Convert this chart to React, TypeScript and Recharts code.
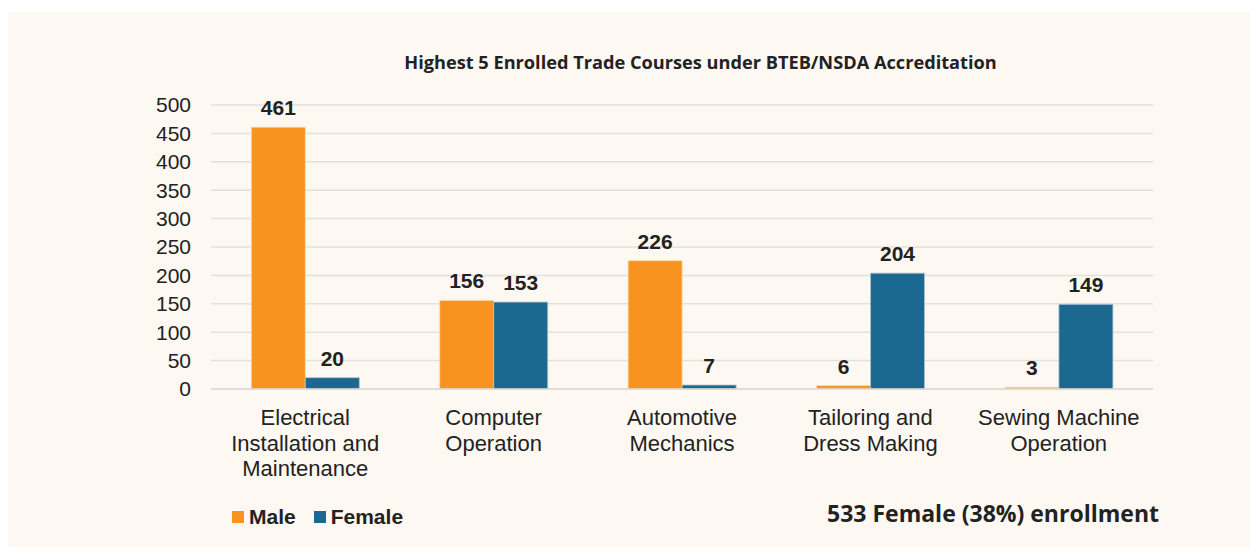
import React from "react";
import { BarChart, Bar, XAxis, YAxis, CartesianGrid, LabelList } from "recharts";

const categories = [
  "Electrical Installation and Maintenance",
  "Computer Operation",
  "Automotive Mechanics",
  "Tailoring and Dress Making",
  "Sewing Machine Operation",
];
const categoryLines: string[][] = [
  ["Electrical", "Installation and", "Maintenance"],
  ["Computer", "Operation"],
  ["Automotive", "Mechanics"],
  ["Tailoring and", "Dress Making"],
  ["Sewing Machine", "Operation"],
];
const maleValues = [461, 156, 226, 6, 3];
const femaleValues = [20, 153, 7, 204, 149];
const yTicks = [0, 50, 100, 150, 200, 250, 300, 350, 400, 450, 500];
const seriesNames = ["Male", "Female"];

const data = categories.map((c, i) => ({
  name: c,
  Male: maleValues[i],
  Female: femaleValues[i],
}));

const ORANGE = "#F7931E";
const BLUE = "#1B6890";
const CREAM = "#FDF8F1";
const TEXT = "#222222";
const FONT = "'Liberation Sans', Arial, Helvetica, sans-serif";

const XTick = (props: any) => {
  const { x, y, index } = props;
  const lines = categoryLines[index] || [];
  return (
    <g transform={`translate(${x},${y})`}>
      {lines.map((l, i) => (
        <text
          key={i}
          x={0}
          y={i * 25.5}
          dy={20}
          textAnchor="middle"
          fill={TEXT}
          fontSize={22}
          fontFamily={FONT}
        >
          {l}
        </text>
      ))}
    </g>
  );
};

export default function App() {
  const colors = [ORANGE, BLUE];
  return (
    <div style={{ position: "relative", top: 4, width: 1250, height: 539, background: CREAM }}>
      <div
        style={{
          position: "absolute",
          left: 0,
          width: 1385,
          top: 38,
          textAlign: "center",
          fontFamily: "'Open Sans', sans-serif",
          fontWeight: 700,
          fontSize: 18.2,
          color: TEXT,
          whiteSpace: "nowrap",
        }}
      >
        Highest 5 Enrolled Trade Courses under BTEB/NSDA Accreditation
      </div>
      <div
        style={{
          position: "absolute",
          left: 819,
          top: 485,
          fontFamily: "'Open Sans', sans-serif",
          fontWeight: 700,
          fontSize: 23,
          color: TEXT,
          whiteSpace: "nowrap",
        }}
      >
        533 Female (38%) enrollment
      </div>
      <div
        style={{
          position: "absolute",
          left: 224,
          top: 493,
          display: "flex",
          alignItems: "center",
          fontFamily: FONT,
          fontWeight: 700,
          fontSize: 21,
          color: TEXT,
          whiteSpace: "nowrap",
        }}
      >
        {seriesNames.map((n, i) => (
          <React.Fragment key={n}>
            <span style={{ width: 12, height: 12, background: colors[i], display: "inline-block", marginRight: 5 }} />
            <span style={{ marginRight: i === 0 ? 18 : 0 }}>{n}</span>
          </React.Fragment>
        ))}
      </div>
      <BarChart
        width={1250}
        height={539}
        data={data}
        margin={{ top: 93, right: 105, bottom: 0, left: 0 }}
        barCategoryGap="21.4%"
        barGap={0}
      >
        <CartesianGrid vertical={false} stroke="#E3E1DD" strokeWidth={1.5} />
        <XAxis
          dataKey="name"
          axisLine={{ stroke: "#DCDAD6", strokeWidth: 1.5 }}
          tickLine={false}
          tick={<XTick />}
          interval={0}
          height={162}
          tickMargin={10}
        />
        <YAxis
          domain={[0, 500]}
          ticks={yTicks}
          axisLine={false}
          tickLine={false}
          width={203}
          tickMargin={14}
          tick={{ fill: TEXT, fontSize: 21, fontFamily: FONT }}
          interval={0}
        />
        <Bar dataKey="Male" fill={ORANGE} stroke="#FBD9B0" strokeWidth={0.8} isAnimationActive={false}>
          <LabelList dataKey="Male" position="top" offset={12} fill={TEXT} fontSize={21} fontWeight={700} fontFamily={FONT} />
        </Bar>
        <Bar dataKey="Female" fill={BLUE} stroke="#A9C5D6" strokeWidth={0.8} isAnimationActive={false}>
          <LabelList dataKey="Female" position="top" offset={12} fill={TEXT} fontSize={21} fontWeight={700} fontFamily={FONT} />
        </Bar>
      </BarChart>
    </div>
  );
}
